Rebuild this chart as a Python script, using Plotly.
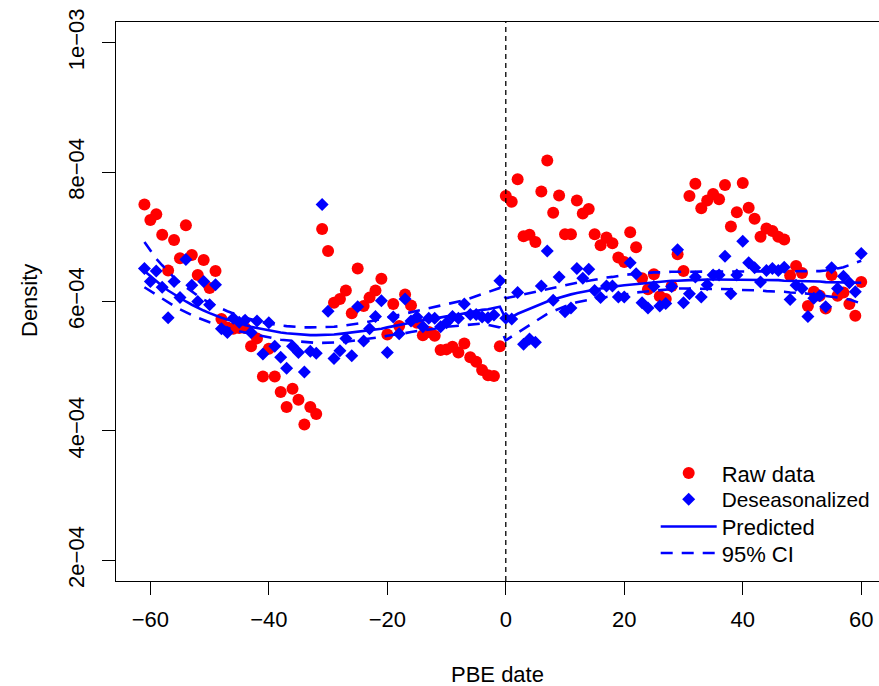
import numpy as np
import plotly.graph_objects as go

# ---- data (values in units of 1e-4) ----
days = list(range(-61, 61))

raw_data = [
    7.50, 7.26, 7.35, 7.03, 6.48, 6.95, 6.67, 7.18, 6.72, 6.41,
    6.64, 6.21, 6.47, 5.73, 5.60, 5.58, 5.59, 5.59, 5.31, 5.43,
    4.84, 5.27, 4.84, 4.60, 4.37, 4.65, 4.48, 4.10, 4.37, 4.26,
    7.12, 6.78, 5.98, 6.04, 6.17, 5.82, 6.51, 5.93, 6.06, 6.17,
    6.35, 5.49, 5.96, 5.62, 6.11, 5.94, 5.67, 5.48, 5.53, 5.47,
    5.25, 5.26, 5.30, 5.21, 5.35, 5.14, 5.07, 4.94, 4.86, 4.85,
    5.31,
    7.63, 7.54, 7.89, 7.01, 7.03, 6.92, 7.70, 8.18, 7.37, 7.64,
    7.04, 7.04, 7.56, 7.36, 7.43, 7.04, 6.87, 6.99, 6.90, 6.68,
    6.61, 7.07, 6.84, 6.36, 6.19, 6.42, 6.08, 6.04, 6.24, 6.73,
    6.47, 7.63, 7.82, 7.44, 7.56, 7.66, 7.58, 7.80, 7.16, 7.38,
    7.83, 7.45, 7.28, 7.00, 7.13, 7.09, 7.00, 6.96, 6.40, 6.55,
    6.44, 5.93, 6.15, 6.09, 5.89, 6.41, 6.09, 6.14, 5.96, 5.78,
    6.30,
]

deseasonalized = [
    6.51, 6.31, 6.47, 6.22, 5.75, 6.31, 6.06, 6.65, 6.25, 6.00,
    6.31, 5.95, 6.26, 5.58, 5.52, 5.74, 5.68, 5.71, 5.52, 5.70,
    5.19, 5.67, 5.31, 5.14, 4.97, 5.31, 5.21, 4.91, 5.23, 5.20,
    7.50, 5.85, 5.12, 5.24, 5.43, 5.16, 5.92, 5.39, 5.58, 5.77,
    6.01, 5.21, 5.76, 5.50, 6.04, 5.70, 5.76, 5.61, 5.74, 5.74,
    5.61, 5.67, 5.77, 5.74, 5.96, 5.80, 5.80, 5.76, 5.75, 5.79,
    6.32,
    5.74, 5.73, 6.14, 5.34, 5.42, 5.37, 6.24, 6.78, 6.02, 6.38,
    5.84, 5.90, 6.51, 6.36, 6.50, 6.17, 6.06, 6.24, 6.24, 6.07,
    6.07, 6.60, 6.43, 5.98, 5.90, 6.23, 5.93, 5.97, 6.23, 6.80,
    5.98, 6.12, 6.38, 6.07, 6.26, 6.41, 6.41, 6.70, 6.12, 6.41,
    6.93, 6.60, 6.52, 6.30, 6.48, 6.51, 6.48, 6.53, 6.03, 6.25,
    6.20, 5.77, 6.05, 6.09, 5.92, 6.52, 6.20, 6.39, 6.29, 6.15,
    6.74,
]

predicted = [
    6.47, 6.39, 6.31, 6.24, 6.17, 6.11, 6.05, 6.00, 5.95, 5.90,
    5.86, 5.82, 5.78, 5.75, 5.72, 5.69, 5.66, 5.64, 5.61, 5.59,
    5.57, 5.55, 5.53, 5.52, 5.51, 5.50, 5.49, 5.48, 5.48, 5.48,
    5.48, 5.48, 5.49, 5.50, 5.51, 5.52, 5.53, 5.54, 5.56, 5.57,
    5.58, 5.60, 5.62, 5.64, 5.66, 5.67, 5.69, 5.71, 5.72, 5.74,
    5.75, 5.77, 5.78, 5.80, 5.82, 5.84, 5.85, 5.87, 5.88, 5.90,
    5.92,
    5.73, 5.76, 5.81, 5.85, 5.89, 5.93, 5.97, 6.00, 6.03, 6.06,
    6.08, 6.11, 6.13, 6.15, 6.17, 6.18, 6.20, 6.21, 6.23, 6.24,
    6.25, 6.26, 6.27, 6.28, 6.29, 6.30, 6.30, 6.31, 6.32, 6.32,
    6.33, 6.33, 6.33, 6.34, 6.34, 6.34, 6.34, 6.34, 6.34, 6.34,
    6.34, 6.34, 6.34, 6.33, 6.33, 6.33, 6.33, 6.32, 6.32, 6.32,
    6.31, 6.31, 6.31, 6.31, 6.30, 6.30, 6.30, 6.30, 6.30, 6.29,
    6.29,
]

ci_upper = [
    6.92, 6.78, 6.66, 6.56, 6.46, 6.37, 6.29, 6.22, 6.15, 6.09,
    6.03, 5.98, 5.93, 5.89, 5.85, 5.81, 5.78, 5.75, 5.72, 5.70,
    5.68, 5.66, 5.65, 5.63, 5.62, 5.61, 5.61, 5.60, 5.60, 5.60,
    5.60, 5.61, 5.61, 5.62, 5.63, 5.64, 5.66, 5.67, 5.69, 5.71,
    5.73, 5.75, 5.77, 5.79, 5.81, 5.83, 5.85, 5.87, 5.89, 5.91,
    5.93, 5.95, 5.97, 6.00, 6.02, 6.05, 6.08, 6.11, 6.14, 6.17,
    6.21,
    6.05, 6.07, 6.09, 6.11, 6.13, 6.16, 6.18, 6.20, 6.22, 6.24,
    6.26, 6.27, 6.29, 6.31, 6.32, 6.34, 6.35, 6.37, 6.38, 6.40,
    6.41, 6.42, 6.43, 6.44, 6.44, 6.45, 6.45, 6.46, 6.46, 6.46,
    6.46, 6.46, 6.46, 6.46, 6.46, 6.46, 6.46, 6.46, 6.46, 6.46,
    6.46, 6.46, 6.46, 6.46, 6.46, 6.46, 6.46, 6.46, 6.46, 6.46,
    6.46, 6.46, 6.46, 6.47, 6.48, 6.49, 6.51, 6.53, 6.56, 6.59,
    6.63,
]

ci_lower = [
    6.22, 6.16, 6.10, 6.04, 5.98, 5.93, 5.88, 5.83, 5.79, 5.75,
    5.71, 5.68, 5.65, 5.62, 5.59, 5.57, 5.54, 5.52, 5.50, 5.48,
    5.46, 5.44, 5.42, 5.41, 5.40, 5.39, 5.38, 5.37, 5.37, 5.36,
    5.36, 5.36, 5.37, 5.37, 5.38, 5.39, 5.40, 5.41, 5.43, 5.44,
    5.45, 5.47, 5.48, 5.50, 5.51, 5.53, 5.54, 5.56, 5.57, 5.58,
    5.60, 5.61, 5.62, 5.63, 5.64, 5.65, 5.66, 5.66, 5.64, 5.62,
    5.60,
    5.40, 5.46, 5.52, 5.58, 5.64, 5.70, 5.76, 5.81, 5.85, 5.89,
    5.93, 5.96, 5.99, 6.01, 6.03, 6.05, 6.06, 6.07, 6.08, 6.09,
    6.10, 6.12, 6.14, 6.15, 6.16, 6.17, 6.18, 6.19, 6.19, 6.20,
    6.20, 6.20, 6.20, 6.20, 6.20, 6.20, 6.19, 6.19, 6.19, 6.18,
    6.18, 6.18, 6.17, 6.17, 6.16, 6.16, 6.15, 6.15, 6.14, 6.14,
    6.13, 6.12, 6.11, 6.10, 6.09, 6.08, 6.07, 6.05, 6.03, 6.00,
    5.97,
]

x_ticks = [-60, -40, -20, 0, 20, 40, 60]
y_ticks = [2e-4, 4e-4, 6e-4, 8e-4, 1e-3]
y_tick_labels = ["2e\u221204", "4e\u221204", "6e\u221204", "8e\u221204", "1e\u221203"]

scale = 1e-4
raw = np.array(raw_data) * scale
des = np.array(deseasonalized) * scale
pred = np.array(predicted) * scale
up = np.array(ci_upper) * scale
lo = np.array(ci_lower) * scale

FONT = "Liberation Sans, Arial, Helvetica, sans-serif"
BLUE = "#0000FF"
RED = "#FF0000"
DASH = "12px,9px"

fig = go.Figure()
fig.add_trace(go.Scatter(x=days, y=raw, mode="markers", name="Raw data", legend="legend",
                         marker=dict(symbol="circle", size=12, color=RED)))
fig.add_trace(go.Scatter(x=days, y=des, mode="markers", name="Deseasonalized", legend="legend2",
                         marker=dict(symbol="diamond", size=10, color=BLUE)))
fig.add_trace(go.Scatter(x=days, y=pred, mode="lines", name="Predicted", legend="legend3",
                         line=dict(color=BLUE, width=2.6)))
fig.add_trace(go.Scatter(x=days, y=up, mode="lines", name="95% CI", legend="legend4",
                         line=dict(color=BLUE, width=2.6, dash=DASH)))
fig.add_trace(go.Scatter(x=days, y=lo, mode="lines", name="95% CI lower", showlegend=False,
                         line=dict(color=BLUE, width=2.6, dash=DASH)))

fig.add_vline(x=0, line=dict(color="black", width=1.3, dash="5px,4px"))

plot_w = 879 - 116
plot_h = 686 - 22 - 105
bottom_px = 686 - 105
ITEMW = 56


def leg(center_px, size=22):
    top = center_px - 21.8
    start = 721.7 - (ITEMW + 10)
    return dict(x=(start - 116) / plot_w, y=(bottom_px - top) / plot_h,
                xanchor="left", yanchor="top", bgcolor="rgba(0,0,0,0)",
                borderwidth=0, font=dict(size=size), itemwidth=ITEMW)


fig.update_layout(
    width=879, height=686,
    margin=dict(l=116, r=0, t=22, b=105, pad=0),
    paper_bgcolor="white", plot_bgcolor="white",
    font=dict(family=FONT, size=22, color="black"),
    showlegend=True,
    legend=leg(474), legend2=leg(501, 20.8), legend3=leg(527.5), legend4=leg(554),
    xaxis=dict(range=[-65.8, 63.0], tickmode="array", tickvals=x_ticks,
               showgrid=False, zeroline=False, showline=True, linecolor="black",
               linewidth=1.3, mirror=True, ticks="outside", ticklen=13,
               tickwidth=1.3, tickcolor="black", ticklabelstandoff=5),
    yaxis=dict(range=[1.68e-4, 10.32e-4], tickmode="array", tickvals=y_ticks,
               ticktext=y_tick_labels, tickangle=-90,
               showgrid=False, zeroline=False, showline=True, linecolor="black",
               linewidth=1.3, mirror=False, ticks="outside", ticklen=13,
               tickwidth=1.3, tickcolor="black", ticklabelstandoff=9),
    annotations=[
        dict(text="PBE date", xref="paper", yref="paper",
             x=(497 - 116) / plot_w, y=(bottom_px - 674) / plot_h,
             xanchor="center", yanchor="middle", showarrow=False, font=dict(size=22)),
        dict(text="Density", textangle=-90, xref="paper", yref="paper",
             x=(29 - 116) / plot_w, y=(bottom_px - 301) / plot_h,
             xanchor="center", yanchor="middle", showarrow=False, font=dict(size=22)),
    ],
)

fig.write_html("out.html")
